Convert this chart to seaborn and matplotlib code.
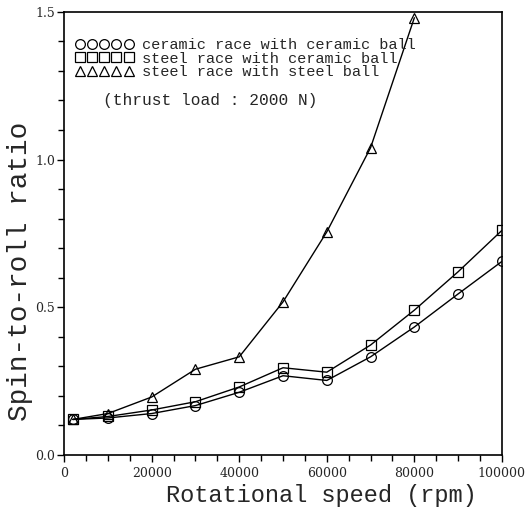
import matplotlib
matplotlib.use("Agg")
import matplotlib.pyplot as plt
from matplotlib.lines import Line2D
from matplotlib.ticker import MultipleLocator, FixedFormatter, FixedLocator
import seaborn as sns
import pandas as pd

speed = [2000, 10000, 20000, 30000, 40000, 50000, 60000, 70000, 80000, 90000, 100000]
ceramic_ceramic = [0.12, 0.125, 0.14, 0.167, 0.212, 0.268, 0.252, 0.332, 0.433, 0.545, 0.655]
steel_ceramic = [0.12, 0.13, 0.152, 0.18, 0.23, 0.295, 0.28, 0.372, 0.49, 0.62, 0.76]
speed_steel = [2000, 10000, 20000, 30000, 40000, 50000, 60000, 70000, 80000]
steel_steel = [0.12, 0.14, 0.196, 0.29, 0.332, 0.518, 0.755, 1.04, 1.48]

labels = ["ceramic race with ceramic ball",
          "steel race with ceramic ball",
          "steel race with steel ball"]
markers = ["o", "s", "^"]
note = "(thrust load : 2000 N)"
xlabel = "Rotational speed (rpm)"
ylabel = "Spin-to-roll ratio"

sns.set_style("ticks")
plt.rcParams["font.family"] = ["DejaVu Serif"]
MONO = ["Liberation Mono", "DejaVu Sans Mono"]

fig = plt.figure(figsize=(5.3, 5.14), dpi=100)
ax = fig.add_axes([0.121, 0.115, 0.826, 0.862])

series = [(speed, ceramic_ceramic), (speed, steel_ceramic), (speed_steel, steel_steel)]
for (xs, ys), lab, mk in zip(series, labels, markers):
    df = pd.DataFrame({"x": xs, "y": ys})
    sns.lineplot(data=df, x="x", y="y", ax=ax, color="black", lw=1.0,
                 marker=mk, markersize=7, markerfacecolor="none",
                 markeredgecolor="black", markeredgewidth=0.9, legend=False)

ax.set_xlim(0, 100000)
ax.set_ylim(0, 1.5)
ax.xaxis.set_major_locator(FixedLocator([0, 20000, 40000, 60000, 80000, 100000]))
ax.xaxis.set_minor_locator(MultipleLocator(5000))
ax.yaxis.set_major_locator(FixedLocator([0.0, 0.5, 1.0, 1.5]))
ax.yaxis.set_major_formatter(FixedFormatter(["0.0", "0.5", "1.0", "1.5"]))
ax.yaxis.set_minor_locator(MultipleLocator(0.1))
ax.tick_params(axis="both", which="both", direction="out", color="black",
               labelsize=9, width=1.0)
ax.tick_params(axis="y", pad=1.5)
ax.tick_params(which="major", length=5)
ax.tick_params(which="minor", length=4)
for s in ax.spines.values():
    s.set_visible(True)
    s.set_color("black")
    s.set_linewidth(1.2)

ax.set_xlabel(xlabel, fontsize=17, family=MONO)
ax.xaxis.set_label_coords(0.587, -0.065, transform=ax.transAxes)
ax.xaxis.label.set_va("top")
ax.set_ylabel(ylabel, fontsize=20, family=MONO)
ax.yaxis.set_label_coords(-0.07, 0.415, transform=ax.transAxes)

handles = [Line2D([], [], ls="none", marker=m, markersize=7, mfc="none",
                  mec="black", mew=0.9) for m in markers]
leg = ax.legend(handles, labels, loc="upper left", bbox_to_anchor=(0.025, 0.94),
                numpoints=5, handlelength=3.8, handletextpad=0.6,
                labelspacing=-0.04, frameon=False, borderpad=0.0,
                prop={"family": MONO, "size": 11},
                borderaxespad=0.0)
ax.text(0.088, 0.80, note, transform=ax.transAxes, fontsize=11.7, family=MONO,
        va="center")

fig.savefig("out.png", dpi=100, facecolor="white")
